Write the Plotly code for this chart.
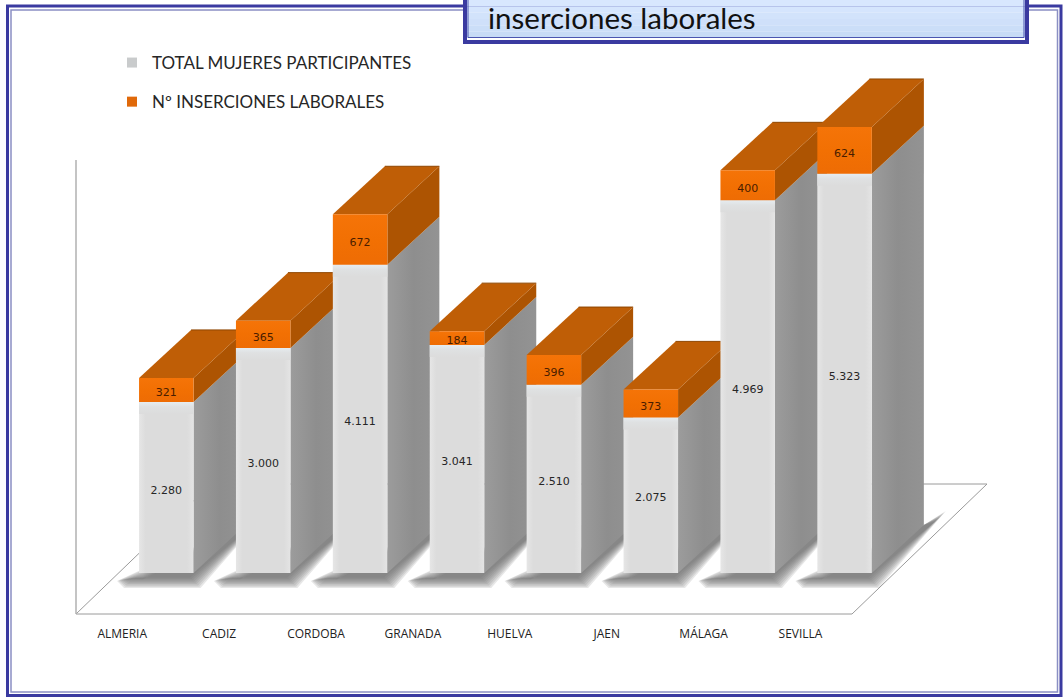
import plotly.graph_objects as go

# ---- data ----
categories = ["ALMERIA", "CADIZ", "CORDOBA", "GRANADA", "HUELVA", "JAEN", "MÁLAGA", "SEVILLA"]
participantes = [2280, 3000, 4111, 3041, 2510, 2075, 4969, 5323]
inserciones = [321, 365, 672, 184, 396, 373, 400, 624]
series_names = ["TOTAL MUJERES PARTICIPANTES", "Nº INSERCIONES LABORALES"]
title_line = "inserciones laborales"

# ---- pseudo-3D projection settings ----
W, H = 1064, 698
PX_PER_CAT = 96.9
PX_PER_VAL = 0.075
ORIGIN_X, ORIGIN_Y = 166.3, 573
AXIS_BOTTOM_PX = 622
HALF = 27.25 / PX_PER_CAT
DX = 52 / PX_PER_CAT
DY = 48 / PX_PER_VAL
sx = 1 / PX_PER_CAT
sy = 1 / PX_PER_VAL


def esp(v):
    return f"{v:,}".replace(",", ".")


def poly(xs, ys, color=None, grad=None):
    kw = dict(x=xs + xs[:1], y=ys + ys[:1], mode="lines", fill="toself",
              line=dict(width=0), hoverinfo="skip", showlegend=False)
    if grad:
        kw["fillgradient"] = dict(type=grad[0], colorscale=grad[1])
    else:
        kw["fillcolor"] = color
    return go.Scatter(**kw)


fig = go.Figure()

# floor and wall (in the same projected space)
floor_y0 = -41 * sy
floor_x0 = (76 - ORIGIN_X) * sx
floor_x1 = (852 - ORIGIN_X) * sx
floor_dx, floor_dy = 135 * sx, 130 * sy
fig.add_trace(go.Scatter(
    x=[floor_x0 + floor_dx, floor_x0, floor_x1, floor_x1 + floor_dx, floor_x0 + floor_dx],
    y=[floor_y0 + floor_dy, floor_y0, floor_y0, floor_y0 + floor_dy, floor_y0 + floor_dy],
    mode="lines", line=dict(color="#9a9a9a", width=1), hoverinfo="skip", showlegend=False))
fig.add_trace(go.Scatter(
    x=[floor_x0, floor_x0], y=[floor_y0, (573 - 160) * sy],
    mode="lines", line=dict(color="#b0b0b0", width=1.5), hoverinfo="skip", showlegend=False))

FRONT_GRAD = [[0, "#e6e6e6"], [0.12, "#dcdcdc"], [0.88, "#dcdcdc"], [1, "#e4e4e4"]]
SIDE_GRAD = [[0, "#9c9c9c"], [0.5, "#8e8e8e"], [1, "#939393"]]
OR_FRONT = [[0, "#ee6c04"], [0.5, "#f27003"], [1, "#f57408"]]
BAND_GRAD = [[0, "#dcdcdc"], [0.6, "#dfe1e2"], [1, "#e6ecf0"]]

for i, (a, b) in enumerate(zip(participantes, inserciones)):
    x0, x1 = i - HALF, i + HALF
    t = a + b
    # soft floor shadow: stacked translucent layers, shrinking towards the bar
    for k in range(9):
        g = k * 1.3
        fig.add_trace(poly(
            [x0 - (22 - g) * sx, x0 - (15 - g) * sx, x1 + (7 - g) * sx,
             x1 + DX + (22 - g) * sx, x1 + DX, x0 + 4 * sx],
            [-(8 - g * 0.2) * sy, -(15 - g) * sy, -(15 - g) * sy,
             DY + (14 - g) * sy, DY, (4 - g) * sy],
            "rgba(105,105,105,0.16)"))
    # grey side and front
    fig.add_trace(poly([x1, x1 + DX, x1 + DX, x1], [0, DY, a + DY, a], grad=("horizontal", SIDE_GRAD)))
    fig.add_trace(poly([x0, x1, x1, x0], [0, 0, a, a], grad=("horizontal", FRONT_GRAD)))
    fig.add_trace(poly([x0, x1, x1, x0], [a - 12 * sy, a - 12 * sy, a, a], grad=("vertical", BAND_GRAD)))
    # orange side, top and front
    fig.add_trace(poly([x1, x1 + DX, x1 + DX, x1], [a, a + DY, t + DY, t], "#ad5402"))
    fig.add_trace(poly([x0, x1, x1 + DX, x0 + DX], [t, t, t + DY, t + DY], "#bf5e06"))
    fig.add_trace(go.Scatter(x=[x0 + DX, x1 + DX], y=[t + DY, t + DY], mode="lines",
                             line=dict(color="#8f4600", width=1), hoverinfo="skip", showlegend=False))
    fig.add_trace(poly([x0, x1, x1, x0], [a, a, t, t], grad=("vertical", OR_FRONT)))

# value labels
idx = list(range(len(categories)))
nudge = -3.5 * sy
fig.add_trace(go.Scatter(x=idx, y=[v / 2 + nudge for v in participantes], mode="text",
                         text=[esp(v) for v in participantes],
                         textfont=dict(family="DejaVu Sans", size=11, color="#262626"),
                         textposition="middle center", hoverinfo="skip", showlegend=False))
fig.add_trace(go.Scatter(x=idx, y=[a + b / 2 + nudge for a, b in zip(participantes, inserciones)], mode="text",
                         text=[esp(v) for v in inserciones],
                         textfont=dict(family="DejaVu Sans", size=11, color="#4a1d00"),
                         textposition="middle center", hoverinfo="skip", showlegend=False))

# legend entries
for name, col in zip(series_names, ["#c9cbcc", "#e0690a"]):
    fig.add_trace(go.Scatter(x=[None], y=[None], mode="markers", name=name, legendgroup=name,
                             marker=dict(symbol="square", size=10, color=col)))


def px(v):
    return v / W


def py(v):
    return 1 - v / H


shapes = [
    dict(type="rect", xref="paper", yref="paper", x0=px(7.5), x1=px(1061), y0=py(6), y1=py(695.5),
         line=dict(color="#3a3aa0", width=3)),
    dict(type="rect", xref="paper", yref="paper", x0=px(11), x1=px(1057.5), y0=py(10), y1=py(692),
         line=dict(color="#8a8fc4", width=1.5)),
]
# title box, vertical gradient built from strips
strips = ["#d8e7fe", "#d5e5fd", "#d2e3fb", "#cfe0fa", "#cbdef8", "#c7dbf6"]
for j, c in enumerate(strips):
    shapes.append(dict(type="rect", xref="paper", yref="paper", x0=px(465), x1=px(1027),
                       y0=py(j * 38 / len(strips)), y1=py((j + 1) * 38 / len(strips)),
                       fillcolor=c, line=dict(width=0)))
shapes += [
    dict(type="rect", xref="paper", yref="paper", x0=px(468), x1=px(1024), y0=py(37.5), y1=py(-5),
         line=dict(color="#4a55b0", width=1)),
    dict(type="rect", xref="paper", yref="paper", x0=px(465), x1=px(1027), y0=py(42), y1=py(-5),
         line=dict(color="#3a3aa0", width=4)),
]

fig.update_layout(
    width=W, height=H, margin=dict(l=0, r=0, t=0, b=0, autoexpand=False),
    paper_bgcolor="white", plot_bgcolor="white", shapes=shapes,
    xaxis=dict(range=[-ORIGIN_X * sx, (W - ORIGIN_X) * sx], domain=[0, 1], showgrid=False, zeroline=False,
               showline=False, tickmode="array", tickvals=[i - 0.455 for i in idx], ticktext=categories,
               ticks="", ticklabelstandoff=3, tickfont=dict(family="Open Sans", size=12, color="#222222"),
               fixedrange=True),
    yaxis=dict(range=[(ORIGIN_Y - AXIS_BOTTOM_PX) * sy, ORIGIN_Y * sy], domain=[1 - AXIS_BOTTOM_PX / H, 1],
               visible=False, fixedrange=True),
    legend=dict(x=px(127), y=py(45), xanchor="left", yanchor="top", indentation=-15, tracegroupgap=14,
                bgcolor="rgba(0,0,0,0)", font=dict(family="Lato", size=17, color="#262626")),
    annotations=[dict(text=title_line, xref="paper", yref="paper", x=px(486), y=py(17.5), xanchor="left",
                      yanchor="middle", showarrow=False,
                      font=dict(family="Lato", size=29.5, color="#111111"))],
)
fig.write_html("out.html", config={"displayModeBar": False},
               post_script="document.documentElement.style.margin='0';document.body.style.margin='0';document.body.style.overflow='hidden';")
